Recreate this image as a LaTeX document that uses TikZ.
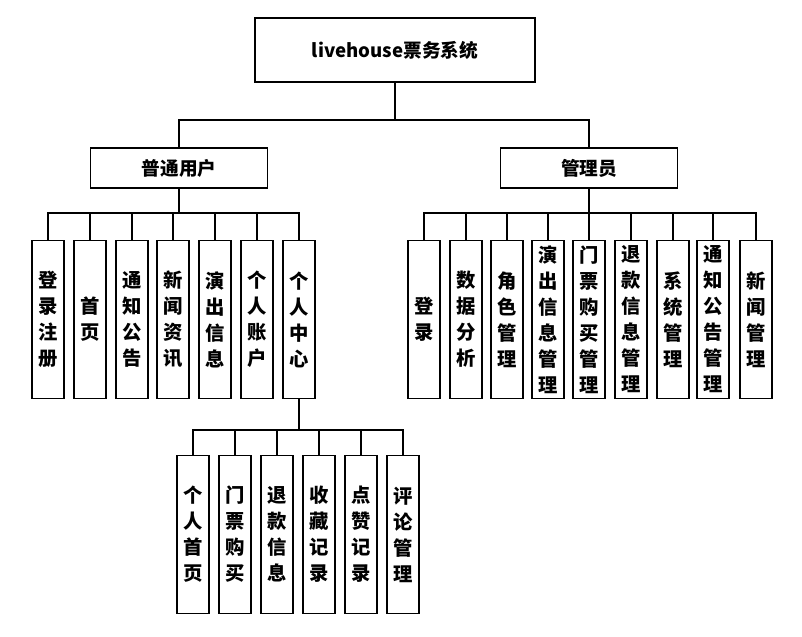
\documentclass[tikz,border=0pt]{standalone}
\usepackage{fontspec}
\setmainfont{Noto Sans CJK SC}
\usepackage{tikz}
\usetikzlibrary{positioning,calc}

\begin{document}
\begin{tikzpicture}[
    x=0.75pt, y=-0.75pt,
    topbox/.style={rectangle, draw, thick, minimum width=210pt, minimum height=48pt, font=\fontsize{14}{16}\selectfont\bfseries},
    rolebox/.style={rectangle, draw, thick, minimum width=133pt, minimum height=30pt, font=\fontsize{14}{16}\selectfont\bfseries},
    leaf/.style={rectangle, draw, thick, minimum width=24pt, minimum height=118pt, inner sep=1pt, align=center, font=\fontsize{14.5}{19.5}\selectfont\bfseries},
    link/.style={thick}
]
\useasboundingbox (0,0) rectangle (802,636);

% root and roles
\node[topbox] (sys) at (395,50) {livehouse票务系统};
\node[rolebox] (usr) at (179,168) {普通用户};
\node[rolebox] (adm) at (589,168) {管理员};
\draw[link] (sys.south) -- (395,120) -| (usr.north);
\draw[link] (395,120) -| (adm.north);

% user functions
\foreach \i/\x/\t in {1/48/登\\录\\注\\册, 2/90/首\\页, 3/132/通\\知\\公\\告, 4/173/新\\闻\\资\\讯,
                      5/215/演\\出\\信\\息, 6/257/个\\人\\账\\户, 7/299/个\\人\\中\\心}{
  \node[leaf] (u\i) at (\x,319.5) {\t};
  \draw[link] (usr.south) -- (179,213) -| (u\i.north);
}

% admin functions
\foreach \i/\x/\t in {1/424/登\\录, 2/466/数\\据\\分\\析, 3/507/角\\色\\管\\理, 4/548/演\\出\\信\\息\\管\\理,
                      5/589/门\\票\\购\\买\\管\\理, 6/631/退\\款\\信\\息\\管\\理, 7/673/系\\统\\管\\理,
                      8/713/通\\知\\公\\告\\管\\理, 9/756/新\\闻\\管\\理}{
  \node[leaf] (a\i) at (\x,319.5) {\t};
  \draw[link] (adm.south) -- (589,213) -| (a\i.north);
}

% personal center
\foreach \i/\x/\t in {1/193/个\\人\\首\\页, 2/235/门\\票\\购\\买, 3/277/退\\款\\信\\息,
                      4/319/收\\藏\\记\\录, 5/361/点\\赞\\记\\录, 6/403/评\\论\\管\\理}{
  \node[leaf] (p\i) at (\x,534.5) {\t};
  \draw[link] (u7.south) -- (299,430) -| (p\i.north);
}
\end{tikzpicture}
\end{document}
